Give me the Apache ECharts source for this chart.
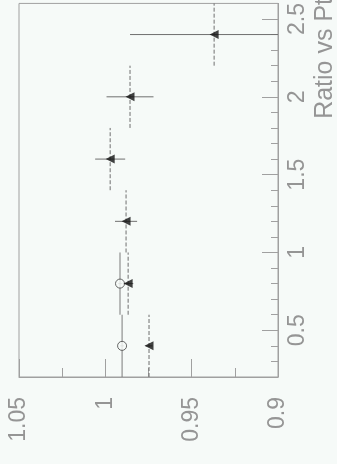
<!DOCTYPE html>
<html>
<head>
<meta charset="utf-8">
<script src="https://cdn.jsdelivr.net/npm/echarts@6/dist/echarts.min.js"></script>
<style>
  html, body { margin: 0; padding: 0; background: #f6faf8; }
  #chart { width: 337px; height: 464px; }
</style>
</head>
<body>
<div id="chart"></div>
<script>
// Pt bin centres and half-widths
const ptCentres = [0.4, 0.8, 1.2, 1.6, 2.0, 2.4];
const ptHalfWidth = [0.2, 0.2, 0.2, 0.2, 0.2, 0.2];

// Ratio for the full-triangle series, with its errors
const ratioFull = [0.9747, 0.9868, 0.988, 0.9972, 0.9857, 0.937];
const ratioFullErr = [0.002, 0.003, 0.0064, 0.0087, 0.0136, 0.0487];

// Ratio for the open-circle series (first two bins only)
const ptOpen = [0.4, 0.8];
const ptOpenHalfWidth = [0.2, 0.2];
const ratioOpen = [0.9903, 0.9915];
const ratioOpenErr = [0.001, 0.001];

// Axis ranges and tick positions
const ratioMin = 0.9, ratioMax = 1.05, ratioStep = 0.05;
const ptMin = 0.2, ptMax = 2.6;
const ptMajorTicks = [0.5, 1.0, 1.5, 2.0, 2.5];
const ptMinorTicks = [0.3, 0.4, 0.6, 0.7, 0.8, 0.9, 1.1, 1.2, 1.3, 1.4,
                      1.6, 1.7, 1.8, 1.9, 2.1, 2.2, 2.3, 2.4];
const titleText = 'Ratio vs Pt';

const axisGrey = '#a0a0a0';
const textGrey = '#959595';
const labelFont = 'Liberation Sans, Arial, sans-serif';

function clamp(v, lo, hi) { return Math.min(hi, Math.max(lo, v)); }

// Error-bar drawer: horizontal bar = ratio error, vertical bar = Pt half-width
function errorBars(colour, ptDash, ratioDash) {
  return function (params, api) {
    const r = api.value(0), pt = api.value(1), dr = api.value(2), dpt = api.value(3);
    const rl = api.coord([clamp(r - dr, ratioMin, ratioMax), pt]);
    const rh = api.coord([clamp(r + dr, ratioMin, ratioMax), pt]);
    const pl = api.coord([r, clamp(pt - dpt, ptMin, ptMax)]);
    const ph = api.coord([r, clamp(pt + dpt, ptMin, ptMax)]);
    return {
      type: 'group',
      children: [
        { type: 'line', shape: { x1: rl[0], y1: rl[1], x2: rh[0], y2: rh[1] },
          style: { stroke: colour, lineWidth: 1, lineDash: ratioDash } },
        { type: 'line', shape: { x1: pl[0], y1: pl[1], x2: ph[0], y2: ph[1] },
          style: { stroke: colour, lineWidth: 1, lineDash: ptDash } }
      ]
    };
  };
}

const fullData = ptCentres.map((p, i) => [ratioFull[i], p, ratioFullErr[i], ptHalfWidth[i]]);
const openData = ptOpen.map((p, i) => [ratioOpen[i], p, ratioOpenErr[i], ptOpenHalfWidth[i]]);

function fmtRatio(v) { return String(+v.toFixed(3)); }

const chart = echarts.init(document.getElementById('chart'), null, { renderer: 'canvas' });
chart.setOption({
  backgroundColor: '#f6faf8',
  animation: false,
  grid: {
    left: 19, right: 59, top: 1, bottom: 87,
    show: true, borderColor: axisGrey, borderWidth: 1, backgroundColor: 'transparent'
  },
  xAxis: {
    type: 'value',
    min: ratioMin, max: ratioMax, interval: ratioStep,
    inverse: true,
    position: 'bottom',
    axisLine: { show: true, lineStyle: { color: axisGrey, width: 1 } },
    axisTick: { show: true, inside: true, length: 18, lineStyle: { color: axisGrey } },
    minorTick: { show: true, splitNumber: 2, length: 9, lineStyle: { color: axisGrey } },
    splitLine: { show: false },
    axisLabel: {
      rotate: 90, margin: 20, color: textGrey, fontSize: 23, fontFamily: labelFont,
      formatter: fmtRatio
    }
  },
  yAxis: [
    {
      type: 'value',
      min: ptMin, max: ptMax,
      position: 'right',
      axisLine: { show: true, lineStyle: { color: axisGrey, width: 1 } },
      axisTick: { show: true, inside: true, length: 16, customValues: ptMajorTicks,
                  lineStyle: { color: axisGrey } },
      splitLine: { show: false },
      axisLabel: {
        customValues: ptMajorTicks,
        rotate: 90, margin: 8, color: textGrey, fontSize: 23, fontFamily: labelFont,
        formatter: v => String(+v.toFixed(2))
      }
    },
    {
      type: 'value',
      min: ptMin, max: ptMax,
      position: 'right',
      axisLine: { show: false },
      axisTick: { show: true, inside: true, length: 7, customValues: ptMinorTicks,
                  lineStyle: { color: axisGrey } },
      splitLine: { show: false },
      axisLabel: { show: false }
    }
  ],
  graphic: [{
    type: 'text',
    x: 325, y: -2,
    rotation: Math.PI / 2,
    style: {
      text: titleText, fill: textGrey, fontSize: 25, fontFamily: labelFont,
      align: 'right', verticalAlign: 'middle'
    }
  }],
  series: [
    {
      type: 'custom', name: 'open-err', data: openData,
      renderItem: errorBars('#7a7a7a', null, null),
      encode: { x: 0, y: 1 }, z: 2
    },
    {
      type: 'custom', name: 'full-err', data: fullData,
      renderItem: errorBars('#6f6f6f', [4, 2], null),
      encode: { x: 0, y: 1 }, z: 2
    },
    {
      type: 'scatter', name: 'open', data: openData.map(d => [d[0], d[1]]),
      symbol: 'circle', symbolSize: 9,
      itemStyle: { color: '#f6faf8', borderColor: '#444', borderWidth: 1 },
      z: 3
    },
    {
      type: 'scatter', name: 'full', data: fullData.map(d => [d[0], d[1]]),
      symbol: 'triangle', symbolSize: 9, symbolRotate: 90,
      itemStyle: { color: '#111' },
      z: 4
    }
  ]
});
</script>
</body>
</html>
